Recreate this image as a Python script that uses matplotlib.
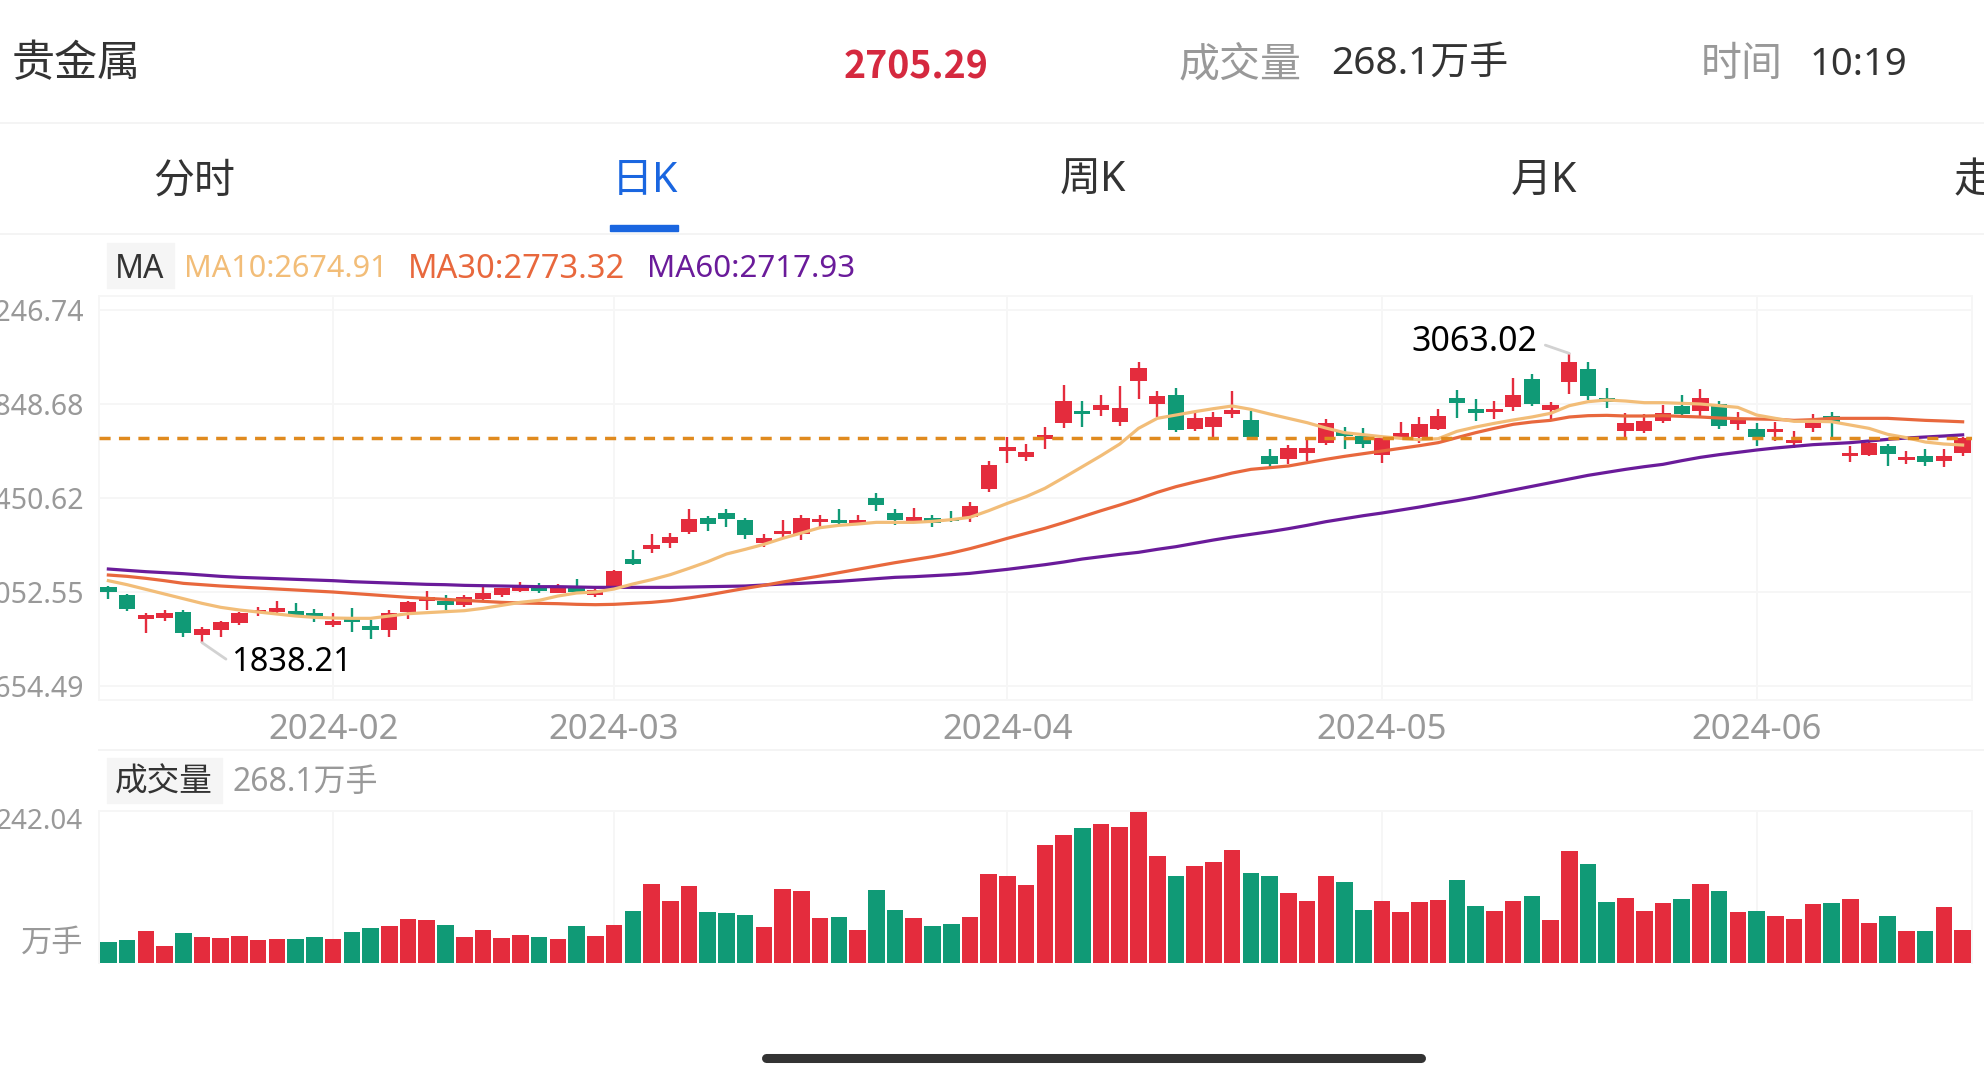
import numpy as np
import matplotlib
matplotlib.use('Agg')
import matplotlib.pyplot as plt
from matplotlib.patches import Rectangle

plt.rcParams['font.family'] = ['Noto Sans', 'Noto Sans CJK SC', 'DejaVu Sans']

# Candle data
opens = [2072.2, 2039.8, 1939.5, 1943.8, 1967.8, 1871.8, 1893.0, 1922.6, 1966.4, 1967.8,
         1973.4, 1965.0, 1912.7, 1936.7, 1907.1, 1891.6, 1967.8, 2015.8, 2013.0, 1998.8,
         2024.3, 2041.2, 2058.2, 2072.2, 2049.7, 2068.0, 2039.8, 2072.2, 2193.6, 2236.0,
         2260.0, 2308.0, 2367.3, 2385.6, 2356.0, 2261.4, 2296.7, 2296.7, 2350.3, 2357.4,
         2343.3, 2449.2, 2385.6, 2350.3, 2365.9, 2363.0, 2370.1, 2487.3, 2648.2, 2622.8,
         2699.0, 2769.6, 2817.6, 2824.6, 2771.0, 2947.4, 2848.6, 2888.2, 2742.8, 2751.2,
         2806.3, 2782.3, 2627.0, 2617.1, 2641.1, 2684.9, 2728.6, 2713.1, 2631.3, 2706.1,
         2708.9, 2742.8, 2872.6, 2828.9, 2813.3, 2835.9, 2953.1, 2824.6, 2943.2, 2995.4,
         2874.0, 2732.9, 2732.9, 2778.0, 2838.7, 2817.6, 2847.2, 2765.4, 2744.2, 2728.6,
         2682.1, 2748.4, 2799.2, 2628.4, 2632.7, 2672.2, 2610.1, 2629.8, 2608.6, 2641.1]
closes = [2053.9, 1979.1, 1955.1, 1963.6, 1880.3, 1894.4, 1924.0, 1965.0, 1977.7, 1984.7,
          1956.5, 1949.4, 1928.3, 1926.8, 1893.0, 1962.1, 2010.1, 2029.9, 1998.8, 2029.9,
          2046.8, 2068.0, 2072.2, 2058.2, 2077.9, 2051.1, 2061.0, 2140.0, 2171.0, 2251.5,
          2284.0, 2361.6, 2341.9, 2360.2, 2293.9, 2282.6, 2309.4, 2364.4, 2363.0, 2343.3,
          2356.0, 2420.9, 2357.4, 2370.1, 2346.1, 2351.7, 2415.3, 2590.3, 2668.0, 2643.9,
          2717.4, 2861.3, 2807.7, 2845.8, 2833.1, 3002.5, 2881.1, 2739.9, 2790.8, 2793.6,
          2824.6, 2710.3, 2594.5, 2660.9, 2663.7, 2768.2, 2714.5, 2680.6, 2703.2, 2727.2,
          2762.5, 2796.4, 2854.3, 2810.5, 2828.9, 2888.2, 2850.0, 2844.4, 3025.1, 2881.1,
          2855.7, 2768.2, 2776.6, 2809.1, 2807.7, 2874.0, 2755.5, 2787.9, 2707.5, 2742.8,
          2696.2, 2773.8, 2769.6, 2641.1, 2684.9, 2635.5, 2624.2, 2604.4, 2628.4, 2705.29]
highs = [2077.9, 2044.0, 1965.0, 1976.3, 1976.3, 1902.9, 1928.3, 1969.2, 1990.4, 2015.8,
         2007.3, 1979.1, 1962.1, 1984.7, 1933.9, 1976.3, 2015.8, 2055.3, 2038.4, 2039.8,
         2083.5, 2070.8, 2096.2, 2092.0, 2086.4, 2106.1, 2068.0, 2145.7, 2230.3, 2296.7,
         2300.9, 2404.0, 2374.3, 2402.6, 2364.4, 2296.7, 2357.4, 2380.0, 2380.0, 2404.0,
         2377.2, 2471.7, 2402.6, 2406.8, 2377.2, 2396.9, 2433.6, 2605.8, 2708.9, 2679.2,
         2752.6, 2929.1, 2859.9, 2888.2, 2924.9, 3026.5, 2902.3, 2915.0, 2820.4, 2814.7,
         2902.3, 2820.4, 2656.6, 2675.0, 2700.4, 2786.5, 2752.6, 2747.0, 2710.3, 2772.4,
         2795.0, 2827.5, 2907.9, 2869.8, 2859.9, 2960.1, 2975.7, 2855.7, 3063.02, 3026.5,
         2917.8, 2810.5, 2806.3, 2845.8, 2885.3, 2912.1, 2859.9, 2814.7, 2766.8, 2772.4,
         2735.7, 2807.7, 2816.1, 2670.8, 2696.2, 2679.2, 2648.2, 2656.6, 2659.5, 2710.3]
lows = [2021.4, 1973.5, 1880.3, 1931.1, 1863.3, 1838.21, 1863.3, 1911.3, 1950.9, 1965.0,
        1953.7, 1925.4, 1902.9, 1883.1, 1852.0, 1860.5, 1939.5, 1976.3, 1976.3, 1987.6,
        2013.0, 2032.7, 2052.5, 2049.7, 2046.8, 2049.7, 2029.9, 2072.2, 2166.8, 2219.1,
        2240.2, 2299.5, 2310.8, 2329.2, 2278.4, 2241.6, 2286.8, 2272.7, 2329.2, 2340.4,
        2334.8, 2396.9, 2334.8, 2347.5, 2329.2, 2348.9, 2348.9, 2476.0, 2600.2, 2605.8,
        2659.5, 2747.0, 2752.6, 2797.8, 2755.5, 2871.2, 2792.2, 2731.5, 2735.7, 2701.8,
        2787.9, 2696.2, 2580.4, 2594.5, 2605.8, 2676.4, 2659.5, 2662.3, 2598.8, 2703.2,
        2682.1, 2738.5, 2789.3, 2775.2, 2785.1, 2820.4, 2838.8, 2780.9, 2891.0, 2865.6,
        2831.7, 2707.5, 2724.4, 2769.6, 2800.6, 2795.0, 2741.4, 2738.5, 2672.2, 2690.5,
        2660.9, 2728.6, 2710.3, 2603.0, 2627.0, 2586.1, 2594.5, 2587.5, 2583.2, 2629.8]

# Moving averages
ma10 = [2100.5, 2083.5, 2063.8, 2044.0, 2024.3, 2004.5, 1987.6, 1976.3, 1967.8, 1959.3,
        1950.9, 1945.2, 1942.4, 1941.0, 1941.0, 1950.9, 1960.7, 1965.0, 1969.2, 1973.4,
        1983.3, 1996.0, 2008.7, 2017.2, 2035.5, 2048.3, 2052.5, 2065.2, 2086.4, 2104.7,
        2125.9, 2152.7, 2180.9, 2213.4, 2233.2, 2254.3, 2279.8, 2302.3, 2324.9, 2334.8,
        2340.4, 2347.5, 2347.5, 2347.5, 2351.7, 2358.8, 2368.7, 2396.9, 2428.0, 2456.2,
        2491.5, 2536.7, 2583.2, 2629.8, 2679.2, 2745.6, 2787.9, 2802.0, 2816.2, 2828.9,
        2840.2, 2826.0, 2806.3, 2787.9, 2769.6, 2747.0, 2727.2, 2718.7, 2710.3, 2703.2,
        2697.6, 2701.8, 2732.9, 2751.2, 2766.8, 2780.9, 2793.6, 2809.1, 2841.6, 2858.5,
        2865.6, 2861.3, 2854.3, 2854.3, 2851.5, 2848.6, 2841.6, 2834.5, 2802.0, 2787.9,
        2775.2, 2775.2, 2773.8, 2759.7, 2745.6, 2720.2, 2706.1, 2687.7, 2679.2, 2674.91]
ma30 = [2124.5, 2118.8, 2110.4, 2100.5, 2089.2, 2083.5, 2077.9, 2073.6, 2069.4, 2065.2,
        2061.0, 2056.7, 2052.5, 2046.8, 2041.2, 2035.5, 2029.9, 2025.6, 2021.4, 2017.2,
        2013.0, 2008.7, 2005.9, 2004.5, 2003.1, 2000.3, 1998.8, 2000.3, 2004.5, 2008.7,
        2015.8, 2027.1, 2039.8, 2053.9, 2068.0, 2080.7, 2094.8, 2107.5, 2120.2, 2134.4,
        2148.5, 2162.6, 2176.7, 2189.4, 2202.1, 2217.6, 2236.0, 2257.2, 2279.8, 2300.9,
        2322.1, 2346.1, 2371.5, 2396.9, 2420.9, 2446.3, 2474.6, 2498.6, 2518.3, 2536.7,
        2556.4, 2571.9, 2579.0, 2586.1, 2600.2, 2614.3, 2627.0, 2638.3, 2649.6, 2660.9,
        2672.2, 2684.9, 2706.1, 2727.2, 2745.6, 2762.5, 2772.4, 2779.4, 2793.6, 2799.2,
        2800.6, 2797.8, 2797.8, 2799.2, 2796.4, 2793.6, 2789.3, 2786.5, 2785.1, 2783.7,
        2779.4, 2782.3, 2787.9, 2787.9, 2787.9, 2787.9, 2783.7, 2779.4, 2776.6, 2773.32]
ma60 = [2149.9, 2144.2, 2138.6, 2134.4, 2130.1, 2124.5, 2118.8, 2114.6, 2111.8, 2109.0,
        2106.1, 2103.3, 2100.5, 2096.2, 2093.4, 2090.6, 2087.8, 2085.0, 2083.5, 2080.7,
        2079.3, 2077.9, 2076.5, 2075.1, 2075.1, 2073.6, 2072.2, 2072.2, 2072.2, 2072.2,
        2072.2, 2073.6, 2075.1, 2076.5, 2077.9, 2082.1, 2086.4, 2089.2, 2093.4, 2097.6,
        2103.3, 2109.0, 2114.6, 2117.4, 2121.6, 2125.9, 2131.5, 2140.0, 2148.5, 2158.4,
        2168.2, 2179.5, 2192.2, 2202.1, 2212.0, 2220.5, 2233.2, 2244.5, 2258.6, 2272.7,
        2285.4, 2296.7, 2308.0, 2320.7, 2334.8, 2350.3, 2363.0, 2375.7, 2387.0, 2399.7,
        2412.4, 2426.5, 2439.3, 2453.3, 2468.9, 2484.4, 2499.9, 2515.5, 2531.0, 2546.5,
        2559.2, 2571.9, 2583.2, 2593.1, 2608.6, 2622.8, 2634.1, 2643.9, 2653.8, 2662.3,
        2669.4, 2676.4, 2680.6, 2684.9, 2691.9, 2699.0, 2704.6, 2708.9, 2713.1, 2717.93]

# Volume, in 万手
volumes = [32.9, 36.6, 51.5, 27.1, 47.8, 40.9, 40.3, 43.0, 36.6, 38.7,
           38.7, 40.9, 37.7, 49.4, 55.2, 58.4, 70.1, 67.9, 60.0, 41.9,
           53.1, 39.8, 44.1, 40.9, 37.7, 58.4, 43.5, 60.0, 82.8, 126.3,
           98.7, 122.1, 80.7, 79.1, 75.9, 57.3, 118.4, 114.7, 71.7, 73.3,
           52.5, 116.2, 84.4, 72.2, 58.9, 62.1, 72.7, 142.3, 138.5, 124.7,
           187.9, 203.8, 215.0, 221.9, 217.1, 242.04, 170.9, 139.1, 154.5, 160.3,
           179.9, 142.8, 138.0, 111.5, 98.2, 138.5, 128.5, 84.4, 99.3, 81.7,
           97.1, 100.3, 132.2, 91.3, 82.8, 98.7, 106.7, 69.0, 177.8, 157.6,
           97.1, 103.5, 83.3, 95.0, 101.9, 125.3, 114.1, 81.2, 82.3, 74.3,
           70.6, 93.4, 95.0, 102.4, 63.2, 75.4, 51.5, 51.0, 88.6, 52.5]

last_price = 2705.29
price_ticks = [3246.74, 2848.68, 2450.62, 2052.55, 1654.49]
price_labels = ['3246.74', '2848.68', '2450.62', '2052.55', '1654.49']
month_idx = [12, 27, 48, 68, 88]
month_labels = ['2024-02', '2024-03', '2024-04', '2024-05', '2024-06']

RED = '#e42c3d'
GREEN = '#109a76'
GRID = '#f6f6f6'
GREY = '#999999'
DARK = '#333333'
W, H = 1984, 1080

fig = plt.figure(figsize=(W / 100, H / 100), dpi=100, facecolor='white')


def px_axes(left, top, right, bottom):
    return fig.add_axes([left / W, 1 - bottom / H, (right - left) / W, (bottom - top) / H])


x = np.arange(len(opens))
opens = np.array(opens)
closes = np.array(closes)
colors = np.where(closes >= opens, RED, GREEN)

# --- Candles ---
ax = px_axes(99, 296, 1972, 700)
ax.set_xlim(-0.5, 99.5)
ax.set_ylim(1595.2, 3306.0)
ax.vlines(x, lows, highs, colors=colors, linewidth=1.7, zorder=2)
ax.bar(x, np.abs(closes - opens), bottom=np.minimum(opens, closes), width=0.87, color=colors, zorder=2)
ax.plot(x, ma60, color='#6a1b9a', lw=2.3, zorder=3)
ax.plot(x, ma30, color='#e8683d', lw=2.3, zorder=3)
ax.plot(x, ma10, color='#f2bd78', lw=2.3, zorder=3)
ax.axhline(last_price, color='#e08a1e', lw=2.5, dashes=(3.2, 2.4), dash_capstyle='butt', zorder=4)

ax.set_xticks(month_idx)
ax.set_xticklabels(month_labels)
ax.set_yticks(price_ticks)
ax.set_yticklabels(price_labels)
ax.tick_params(axis='x', length=0, pad=9.5, labelsize=25, labelcolor=GREY)
ax.tick_params(axis='y', length=0, pad=10.5, labelsize=20.5, labelcolor=GREY)
ax.grid(color=GRID, lw=1.4, zorder=0)
ax.set_axisbelow(True)
for s in ax.spines.values():
    s.set_color(GRID)
    s.set_linewidth(1.4)

ax.annotate('1838.21', xy=(5, 1838.21), xytext=(29, -20), textcoords='offset pixels',
            fontsize=23.5, color='black', ha='left', va='center',
            arrowprops=dict(arrowstyle='-', color='#d2d2d2', lw=2.0, relpos=(0, 0.5), shrinkA=2, shrinkB=0))
ax.annotate('3063.02', xy=(78, 3063.02), xytext=(-32, 11), textcoords='offset pixels',
            fontsize=24.5, color='black', ha='right', va='center',
            arrowprops=dict(arrowstyle='-', color='#d2d2d2', lw=2.0, relpos=(1, 0.5), shrinkA=4, shrinkB=0))

# --- Volume ---
ax2 = px_axes(99, 811, 1972, 963)
ax2.set_xlim(-0.5, 99.5)
ax2.set_ylim(0, 242.04)
ax2.bar(x, volumes, width=0.885, color=colors, zorder=2)
ax2.set_xticks(month_idx)
ax2.set_xticklabels([])
ax2.set_yticks([])
ax2.tick_params(length=0)
ax2.grid(axis='x', color=GRID, lw=1.4, zorder=0)
ax2.set_axisbelow(True)
for s in ax2.spines.values():
    s.set_color(GRID)
    s.set_linewidth(1.4)
ax2.spines['bottom'].set_visible(False)

# --- App chrome, in pixel coordinates ---
ui = fig.add_axes([0, 0, 1, 1], zorder=-1)
ui.set_xlim(0, W)
ui.set_ylim(H, 0)
ui.axis('off')
for yy, x0 in [(123, 0), (234, 0), (750, 99)]:
    ui.plot([x0, W], [yy, yy], color='#f4f4f4', lw=1.4)
ui.add_patch(Rectangle((610, 225), 68, 6, color='#1a66e0'))
ui.add_patch(Rectangle((107, 243), 67, 45, color='#f5f5f5'))
ui.add_patch(Rectangle((107, 758), 115, 45, color='#f5f5f5'))
ui.plot([766, 1421], [1058, 1058], color='#333333', lw=6.5, solid_capstyle='round')


def label(px, py, s, size, color=DARK, ha='left', **kw):
    ui.text(px, py, s, fontsize=size, color=color, ha=ha, va='center', **kw)


label(12, 65, '贵金属', 31)
label(916, 67, '2705.29', 27, '#d5293f', ha='center', fontweight='bold',
      family=['Noto Sans CJK SC', 'DejaVu Sans'])
label(1179, 65, '成交量', 29.5, GREY)
label(1331, 65, '268.1万手', 28, DARK, fontweight='medium')
label(1701, 65, '时间', 29.5, GREY)
label(1810, 65, '10:19', 27.5, DARK)

label(194, 181, '分时', 29.5, ha='center')
label(645, 181, '日K', 29.5, '#1a66e0', ha='center')
label(1093, 181, '周K', 29.5, ha='center')
label(1544, 181, '月K', 29.5, ha='center')
label(1954, 181, '走', 29.5)

label(140, 269, 'MA', 23, ha='center')
label(184, 269, 'MA10:2674.91', 22, '#f2bd78')
label(408, 269, 'MA30:2773.32', 23.5, '#e8683d')
label(647, 269, 'MA60:2717.93', 22.5, '#6a1b9a')

label(164, 783, '成交量', 23.5, ha='center')
label(233, 783, '268.1万手', 23, GREY)
label(83, 822, '242.04', 20, GREY, ha='right')
label(83, 944, '万手', 22.5, GREY, ha='right')

fig.savefig('out.png', dpi=100, facecolor='white')
